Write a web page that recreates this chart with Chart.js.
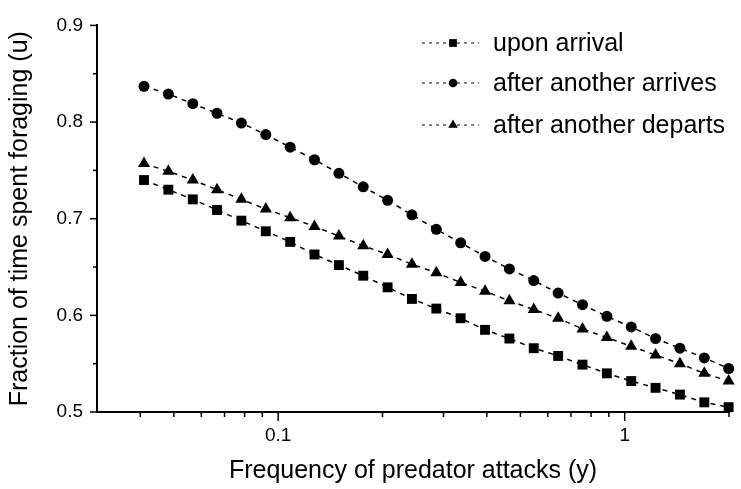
<!DOCTYPE html>
<html lang="en">
<head>
<meta charset="UTF-8">
<title>Fraction of time spent foraging</title>
<script src="https://cdn.jsdelivr.net/npm/chart.js"></script>
<style>
    html, body { margin: 0; padding: 0; background: #fff; }
    #wrap { width: 741px; height: 489px; }
</style>
</head>
<body>
<div id="wrap"><canvas id="chart"></canvas></div>
<script>
// frequency of predator attacks (y)
const attackFreq = [0.0410, 0.0482, 0.0567, 0.0666, 0.0783, 0.0921, 0.1083, 0.1273, 0.1497, 0.1760,
    0.2069, 0.2432, 0.2860, 0.3362, 0.3954, 0.4648, 0.5465, 0.6426, 0.7555, 0.8882,
    1.0443, 1.2278, 1.4436, 1.6973, 1.9953];

const uponArrival = [0.740, 0.730, 0.720, 0.709, 0.698, 0.687, 0.676, 0.663, 0.652, 0.641,
    0.629, 0.617, 0.607, 0.597, 0.585, 0.576, 0.566, 0.558, 0.549, 0.540,
    0.532, 0.525, 0.518, 0.510, 0.505];
const afterArrives = [0.837, 0.829, 0.819, 0.809, 0.799, 0.787, 0.774, 0.761, 0.747, 0.733,
    0.719, 0.704, 0.689, 0.675, 0.661, 0.648, 0.636, 0.623, 0.611, 0.599,
    0.588, 0.576, 0.566, 0.556, 0.545];
const afterDeparts = [0.757, 0.749, 0.740, 0.730, 0.720, 0.710, 0.701, 0.692, 0.682, 0.672,
    0.663, 0.653, 0.644, 0.634, 0.625, 0.615, 0.606, 0.597, 0.586, 0.577,
    0.568, 0.559, 0.550, 0.540, 0.532];

const seriesNames = ['upon arrival', 'after another arrives', 'after another departs'];
const xTickValues = [0.04, 0.05, 0.06, 0.07, 0.08, 0.09, 0.1, 0.2, 0.3, 0.4, 0.5, 0.6, 0.7, 0.8, 0.9, 1, 2];
const xTickLabels = { 0.1: '0.1', 1: '1' };

const FONT = "Arial, 'Liberation Sans', Helvetica, sans-serif";

const toPoints = ys => ys.map((v, i) => ({ x: attackFreq[i], y: v }));

const makeSet = (label, ys, style, radius) => ({
    label: label,
    data: toPoints(ys),
    borderColor: '#000',
    backgroundColor: '#000',
    borderWidth: 1.5,
    borderDash: [5, 5],
    pointStyle: style,
    pointRadius: radius,
    pointBorderWidth: 0,
    pointBackgroundColor: '#000',
    fill: false,
    tension: 0,
    clip: false
});

const datasets = [
    makeSet(seriesNames[0], uponArrival, 'rect', 7),
    makeSet(seriesNames[1], afterArrives, 'circle', 5.5),
    makeSet(seriesNames[2], afterDeparts, 'triangle', 7)
];

// outward tick marks, long on labelled values, short in between
const tickMarks = {
    id: 'tickMarks',
    afterDraw(chart) {
        const ctx = chart.ctx, xs = chart.scales.x, ys = chart.scales.y;
        ctx.save();
        ctx.strokeStyle = '#000';
        ctx.lineWidth = 1.5;
        xTickValues.forEach(v => {
            const px = xs.getPixelForValue(v);
            const len = xTickLabels[v] ? 9 : 5;
            ctx.beginPath();
            ctx.moveTo(px, xs.top);
            ctx.lineTo(px, xs.top + len);
            ctx.stroke();
        });
        ys.ticks.forEach(t => {
            const py = ys.getPixelForValue(t.value);
            const major = Math.abs(t.value * 10 - Math.round(t.value * 10)) < 1e-6;
            ctx.beginPath();
            ctx.moveTo(ys.right, py);
            ctx.lineTo(ys.right - (major ? 7 : 4), py);
            ctx.stroke();
        });
        ctx.restore();
    }
};

// legend: dashed line with the marker in the middle
const lineLegend = {
    id: 'lineLegend',
    afterDraw(chart) {
        const ctx = chart.ctx;
        const rows = [43, 83, 125];
        const sizes = [5.5, 4.3, 5.5];
        ctx.save();
        chart.data.datasets.forEach((ds, i) => {
            const y = rows[i];
            ctx.strokeStyle = '#000';
            ctx.lineWidth = 1;
            ctx.setLineDash([3, 4]);
            ctx.beginPath();
            ctx.moveTo(422, y);
            ctx.lineTo(479, y);
            ctx.stroke();
            ctx.setLineDash([]);
            ctx.fillStyle = '#000';
            Chart.helpers.drawPoint(ctx, { pointStyle: ds.pointStyle, radius: sizes[i], rotation: 0, borderWidth: 0 }, 453, y);
            ctx.fillStyle = '#000';
            ctx.font = '25px ' + FONT;
            ctx.textBaseline = 'middle';
            ctx.textAlign = 'left';
            ctx.fillText(ds.label, 493, y + 1);
        });
        ctx.restore();
    }
};

new Chart(document.getElementById('chart'), {
    type: 'line',
    data: { datasets: datasets },
    options: {
        animation: false,
        responsive: true,
        maintainAspectRatio: false,
        layout: { autoPadding: false, padding: { top: 13, right: 0, left: 0, bottom: 0 } },
        plugins: {
            legend: { display: false },
            tooltip: { enabled: false }
        },
        scales: {
            x: {
                type: 'logarithmic',
                min: 0.03,
                max: 2,
                afterBuildTicks: scale => { scale.ticks = xTickValues.map(v => ({ value: v })); },
                afterFit: scale => { scale.height = 77; },
                grid: { display: false, drawTicks: false },
                border: { display: true, color: '#000', width: 2 },
                ticks: {
                    autoSkip: false,
                    maxRotation: 0,
                    padding: 12,
                    color: '#000',
                    font: { family: FONT, size: 19 },
                    callback: v => xTickLabels[v] || ''
                },
                title: {
                    display: true,
                    text: 'Frequency of predator attacks (y)',
                    color: '#000',
                    font: { family: FONT, size: 25 },
                    padding: { top: 0, bottom: 3 }
                }
            },
            y: {
                min: 0.5,
                max: 0.9,
                afterFit: scale => { scale.width = 97; },
                grid: { display: false, drawTicks: false },
                border: { display: true, color: '#000', width: 2 },
                ticks: {
                    stepSize: 0.05,
                    padding: 14,
                    color: '#000',
                    font: { family: FONT, size: 19 },
                    callback: v => Math.abs(v * 10 - Math.round(v * 10)) < 1e-6 ? v.toFixed(1) : ''
                },
                title: {
                    display: true,
                    text: 'Fraction of time spent foraging (u)',
                    color: '#000',
                    font: { family: FONT, size: 25 },
                    padding: { top: 5, bottom: 0 }
                }
            }
        }
    },
    plugins: [tickMarks, lineLegend]
});
</script>
</body>
</html>
